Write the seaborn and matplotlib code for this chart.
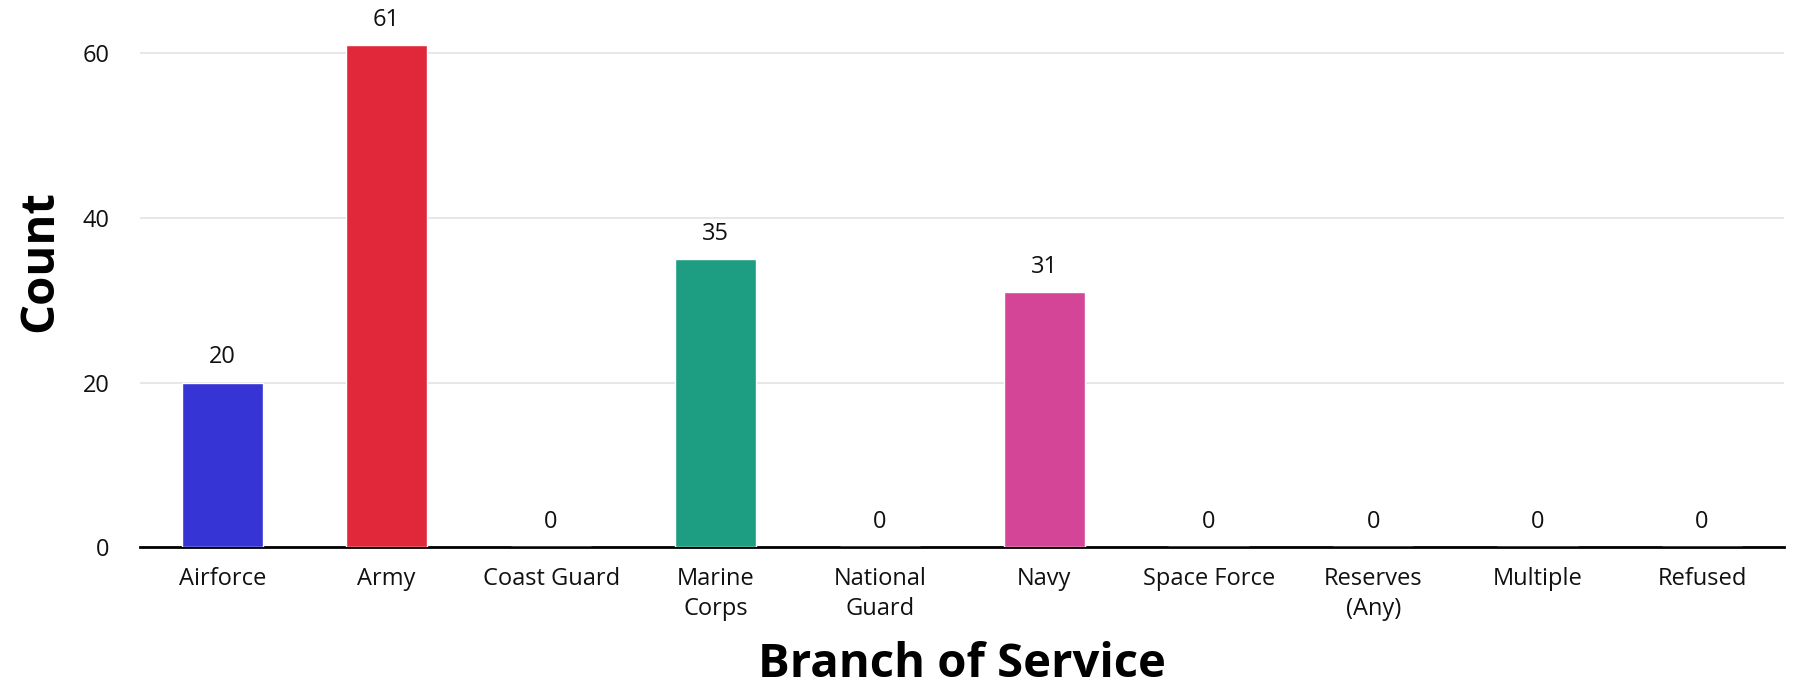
import pandas as pd
import matplotlib.pyplot as plt
import seaborn as sns

# data
branches = ["Airforce", "Army", "Coast Guard", "Marine\nCorps", "National\nGuard",
            "Navy", "Space Force", "Reserves\n(Any)", "Multiple", "Refused"]
counts = [20, 61, 0, 35, 0, 31, 0, 0, 0, 0]
bar_colors = ["#3634d4", "#e0283a", "#888888", "#1d9e82", "#888888",
              "#d44597", "#888888", "#888888", "#888888", "#888888"]

df = pd.DataFrame({"branch": branches, "count": counts})

sns.set_style("white")
plt.rcParams["font.family"] = ["Open Sans", "DejaVu Sans"]

fig = plt.figure(figsize=(17.95, 6.92), dpi=100)
ax = fig.add_axes([0.078, 0.209, 0.916, 0.75])

sns.barplot(data=df, x="branch", y="count", hue="branch",
            palette=dict(zip(branches, bar_colors)), width=0.49,
            saturation=1, legend=False, ax=ax, zorder=3)

# value labels above bars
for i, v in enumerate(counts):
    ax.text(i, v + 1.6, str(v), ha="center", va="bottom", fontsize=17, color="#111111")

ax.set_ylim(0, 63)
ax.set_yticks([0, 20, 40, 60])
ax.yaxis.grid(True, color="#e3e3e3", linewidth=1.2, zorder=0)
ax.set_axisbelow(True)
for s in ["top", "right", "left"]:
    ax.spines[s].set_visible(False)
ax.spines["bottom"].set_color("black")
ax.spines["bottom"].set_linewidth(2)
ax.tick_params(axis="both", length=0, labelsize=17, colors="#111111")
ax.tick_params(axis="x", pad=14)
ax.tick_params(axis="y", pad=22)
for lbl in ax.get_xticklabels():
    lbl.set_linespacing(1.32)

ax.set_xlabel("Branch of Service", fontsize=34, fontweight="bold", labelpad=15, color="black")
ax.set_ylabel("Count", fontsize=34, fontweight="bold", color="black")
ax.yaxis.set_label_coords(-0.0465, 0.551)

fig.savefig("out.png", dpi=100)
